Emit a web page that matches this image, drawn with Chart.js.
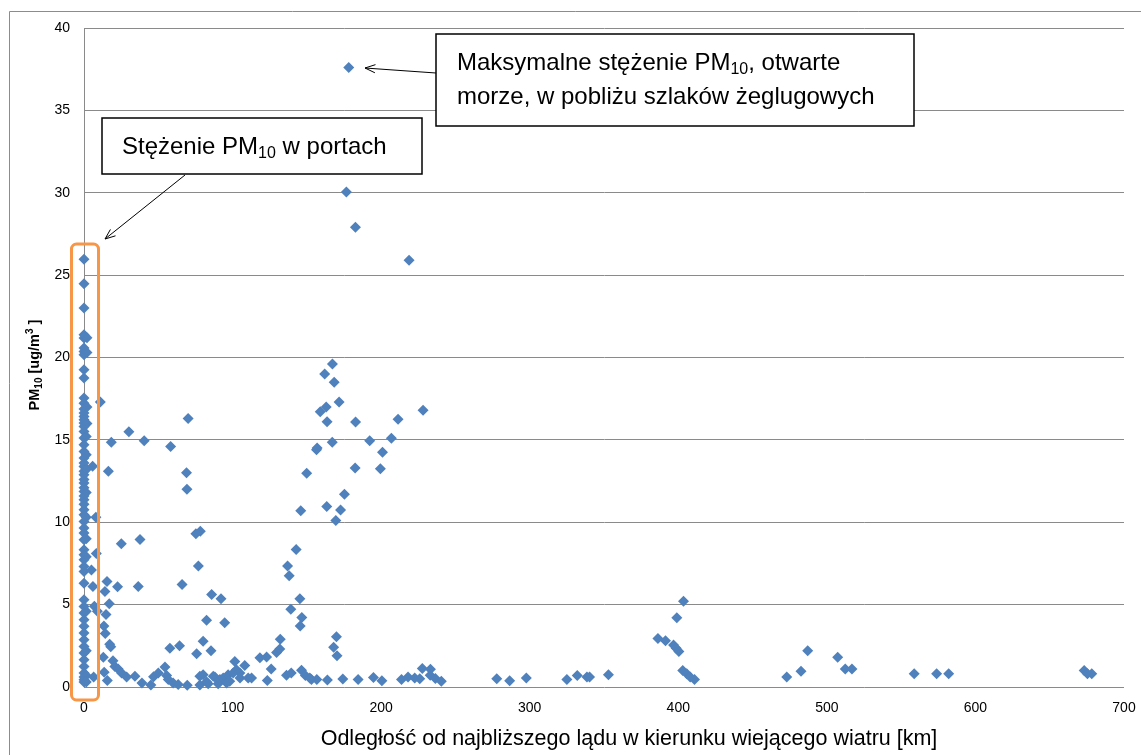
<!DOCTYPE html>
<html>
<head>
<meta charset="utf-8">
<script src="https://cdn.jsdelivr.net/npm/chart.js@4.4.1/dist/chart.umd.min.js"></script>
<style>
  html, body { margin: 0; padding: 0; background: #fff; }
  #wrap { position: relative; width: 1141px; height: 755px; }
</style>
</head>
<body>
<div id="wrap"><canvas id="chart" width="1141" height="755"></canvas></div>
<script>
// Ports (x ~ 0 km)
const portKm = [0,0,0,0,0,0,0,0,0,0,0,0,0,0,0,0,0,0,0,0,0,0,0,0,0,0,0,0,0,0,0,0,0,0,0,0,0,0,0,0,0,0,0,0,0,0,0,0,0,0,0,0,0,0,
  0,0,0,0,0,0,0, 1.5,1.5,1.5,1.5,1.5,1.5,1.5,1.5,2,2,1.5,1.5,1.5,2,2];
const portPm = [25.97,24.47,23.0,21.38,21.18,20.57,20.36,20.16,19.25,18.75,17.54,17.23,16.87,16.63,16.42,16.22,16.02,15.81,15.51,15.11,
  14.7,14.3,13.9,13.6,13.39,12.88,12.38,11.87,11.37,10.76,10.45,10.05,9.65,9.34,8.94,8.33,8.03,7.72,7.32,7.01,6.3,5.3,4.89,4.49,
  4.08,3.68,3.28,2.87,2.46,2.06,1.66,1.25,0.85,0.44,
  13.1,12.6,12.1,11.6,11.1,0.3,0.6, 13.2,10.3,9.0,7.9,4.6,2.2,0.7,0.3,17.0,16.0,15.2,14.1,11.8,21.2,20.3];

// Coastal zone (a few km up to ~250 km)
const coastKm = [5.8,11,8,8.3,5,6,7,9,6.5,
  15.5,14.1,17,14.8,13.4,14.3,17.3,18,13,19.5,20.8,23,25.3,13.6,15.7,28.7,34.3,39,45,46.8,50,54.5,55.6,57.8,64.3,56.7,60,63.4,69.5,
  75.8,80.2,85.5,66,82.5,94.7,85.9,92.2,77,75.3,78.3,69.3,69,25.1,37.7,22.6,36.5,
  18.4,30.2,40.5,58.3,70.1,16.4,
  78,78,80.2,82.5,83.6,87,88.1,90.3,91.5,93.7,96,97,98.1,100.4,101.5,102.6,104.9,105,108.2,110.5,112.8,
  118.4,122.9,123.4,126,129.6,131.8,132.1,136.3,139.5,137,138.1,142.8,145.9,145.3,139.2,146.6,145.5,169.9,168,170.3,
  146.4,149,153.1,156.7,152,163.8,174.2,184.5,194.8,200.5,
  149.9,156.9,156.5,163.4,172.7,169.5,175.3,167.1,182.8,182.5,159,163,163.6,171.7,168.4,162,167.2,211.4,228.2,192.3,206.9,200.9,199.5,
  176.6,182.7,218.8,178.2,
  213.7,218.1,222.6,226,227.7,233.2,233,236.5,240.5];
const coastPm = [13.4,17.3,10.3,8.1,7.1,6.1,4.9,4.6,0.6,
  6.4,5.8,5.05,4.4,3.7,3.25,2.6,2.45,1.8,1.6,1.25,1.1,0.85,0.9,0.4,0.6,0.65,0.25,0.12,0.62,0.85,1.22,0.7,2.35,2.5,0.45,0.25,0.15,0.1,
  2.02,2.78,2.2,6.22,4.05,3.9,5.62,5.35,7.35,9.3,9.45,12.0,13.0,8.7,8.95,6.08,6.1,
  14.85,15.5,14.95,14.6,16.3,13.1,
  0.65,0.12,0.75,0.32,0.2,0.65,0.6,0.2,0.45,0.55,0.25,0.75,0.35,0.85,1.55,1.05,0.85,0.55,1.3,0.55,0.55,
  1.78,1.82,0.4,1.1,2.1,2.3,2.9,0.72,0.85,7.35,6.75,8.35,10.7,5.35,4.72,4.22,3.7,3.05,2.42,1.9,
  1.02,0.7,0.45,0.45,0.55,0.42,0.48,0.45,0.58,0.38,
  12.98,14.5,14.4,10.95,10.75,10.1,11.7,14.85,16.08,13.3,16.7,17.0,16.1,17.3,18.5,19.0,19.6,16.25,16.8,14.95,15.1,14.25,13.25,
  30.05,27.9,25.9,37.6,
  0.45,0.6,0.55,0.5,1.12,1.08,0.72,0.52,0.35];

// Open sea (> 250 km)
const seaKm = [277.8,286.5,297.7,325,332,338.5,340.3,353,386.3,391.4,396.8,398.6,400.4,399,403.5,403,405.7,408,410.9,
  473,482.6,487.1,507.3,512.4,516.9,558.8,573.9,582,673.2,675.4,678.3];
const seaPm = [0.5,0.38,0.55,0.45,0.7,0.6,0.6,0.75,2.95,2.8,2.55,2.35,2.15,4.2,5.2,1.0,0.8,0.6,0.45,
  0.6,0.95,2.2,1.8,1.1,1.1,0.8,0.8,0.8,1.0,0.8,0.8];

const xTicks = [0, 100, 200, 300, 400, 500, 600, 700];
const yTicks = [0, 5, 10, 15, 20, 25, 30, 35, 40];

const FONT = "'Liberation Sans', Arial, sans-serif";
const GRID = '#8a8a8a';
const MARKER = '#4f81bd';

function toPoints(xs, ys) {
  return xs.map((x, i) => ({ x, y: ys[i] }));
}

function drawRich(ctx, parts, x, y, size, weight, align) {
  const widths = parts.map((p) => {
    const s = p.sub || p.sup ? Math.round(size * 0.68) : size;
    ctx.font = `${weight} ${s}px ${FONT}`;
    return ctx.measureText(p.t).width;
  });
  const total = widths.reduce((a, b) => a + b, 0);
  let cx = align === 'center' ? x - total / 2 : x;
  parts.forEach((p, i) => {
    const s = p.sub || p.sup ? Math.round(size * 0.68) : size;
    ctx.font = `${weight} ${s}px ${FONT}`;
    const dy = p.sub ? size * 0.18 : p.sup ? -size * 0.38 : 0;
    ctx.fillText(p.t, cx, y + dy);
    cx += widths[i];
  });
}

function arrow(ctx, x1, y1, x2, y2) {
  const a = Math.atan2(y2 - y1, x2 - x1);
  const h = 11;
  ctx.beginPath();
  ctx.moveTo(x1, y1);
  ctx.lineTo(x2, y2);
  ctx.moveTo(x2 - h * Math.cos(a - 0.38), y2 - h * Math.sin(a - 0.38));
  ctx.lineTo(x2, y2);
  ctx.lineTo(x2 - h * Math.cos(a + 0.38), y2 - h * Math.sin(a + 0.38));
  ctx.stroke();
}

const decorations = {
  id: 'decorations',
  beforeDraw(chart) {
    const ctx = chart.ctx;
    ctx.save();
    ctx.strokeStyle = '#8c8c8c';
    ctx.lineWidth = 1;
    ctx.beginPath();
    ctx.moveTo(9.5, 760);
    ctx.lineTo(9.5, 11.5);
    ctx.lineTo(1150, 11.5);
    ctx.stroke();
    ctx.restore();
  },
  afterDraw(chart) {
    const ctx = chart.ctx;
    ctx.save();
    ctx.fillStyle = '#000';
    ctx.textBaseline = 'alphabetic';
    ctx.textAlign = 'left';

    // axis titles
    drawRich(ctx, [{ t: 'Odległość od najbliższego lądu w kierunku wiejącego wiatru [km]' }], 629, 745, 21.5, 'normal', 'center');

    ctx.save();
    ctx.translate(39, 365);
    ctx.rotate(-Math.PI / 2);
    drawRich(ctx, [{ t: 'PM' }, { t: '10', sub: true }, { t: ' [ug/m' }, { t: '3', sup: true }, { t: ' ]' }], 0, 0, 14.5, 'bold', 'center');
    ctx.restore();

    // orange frame around the port values
    ctx.strokeStyle = '#f79646';
    ctx.lineWidth = 3;
    ctx.beginPath();
    ctx.roundRect(71.5, 244, 27, 456, 5);
    ctx.stroke();

    // annotation boxes
    ctx.lineWidth = 1.5;
    ctx.strokeStyle = '#000';
    ctx.fillStyle = '#fff';
    ctx.fillRect(102, 118, 320, 56);
    ctx.strokeRect(102, 118, 320, 56);
    ctx.fillRect(436, 34, 478, 92);
    ctx.strokeRect(436, 34, 478, 92);

    ctx.fillStyle = '#000';
    drawRich(ctx, [{ t: 'Stężenie PM' }, { t: '10', sub: true }, { t: ' w portach' }], 122, 154, 24, 'normal', 'left');
    drawRich(ctx, [{ t: 'Maksymalne stężenie PM' }, { t: '10', sub: true }, { t: ', otwarte' }], 457, 70, 24, 'normal', 'left');
    drawRich(ctx, [{ t: 'morze, w pobliżu szlaków żeglugowych' }], 457, 104, 24, 'normal', 'left');

    ctx.lineWidth = 1;
    arrow(ctx, 185, 175, 105, 239);
    arrow(ctx, 436, 73, 365, 68);
    ctx.restore();
  }
};

new Chart(document.getElementById('chart'), {
  type: 'scatter',
  data: {
    datasets: [{
      label: 'PM10',
      data: toPoints(portKm, portPm).concat(toPoints(coastKm, coastPm), toPoints(seaKm, seaPm)),
      pointStyle: 'rectRot',
      pointRadius: 5.5,
      pointHoverRadius: 5.5,
      backgroundColor: MARKER,
      borderColor: MARKER,
      borderWidth: 0,
      clip: false,
    }],
  },
  options: {
    responsive: false,
    animation: false,
    events: [],
    layout: { padding: { left: 0, right: 17, top: 28, bottom: 0 } },
    plugins: { legend: { display: false }, tooltip: { enabled: false } },
    scales: {
      x: {
        type: 'linear',
        min: 0,
        max: 700,
        afterFit: (scale) => { scale.height = 68; scale.paddingLeft = 0; scale.paddingRight = 0; },
        afterBuildTicks: (scale) => { scale.ticks = xTicks.map((v) => ({ value: v })); },
        grid: { display: false, drawTicks: false },
        border: { display: false },
        ticks: { color: '#000', padding: 13, font: { family: FONT, size: 14 }, maxRotation: 0 },
      },
      y: {
        type: 'linear',
        min: 0,
        max: 40,
        afterFit: (scale) => { scale.width = 84; scale.paddingTop = 0; scale.paddingBottom = 0; },
        afterBuildTicks: (scale) => { scale.ticks = yTicks.map((v) => ({ value: v })); },
        grid: { color: GRID, lineWidth: 1, drawTicks: false },
        border: { display: true, color: GRID, width: 1 },
        ticks: { color: '#000', padding: 14, font: { family: FONT, size: 14 } },
      },
    },
  },
  plugins: [decorations],
});
</script>
</body>
</html>
